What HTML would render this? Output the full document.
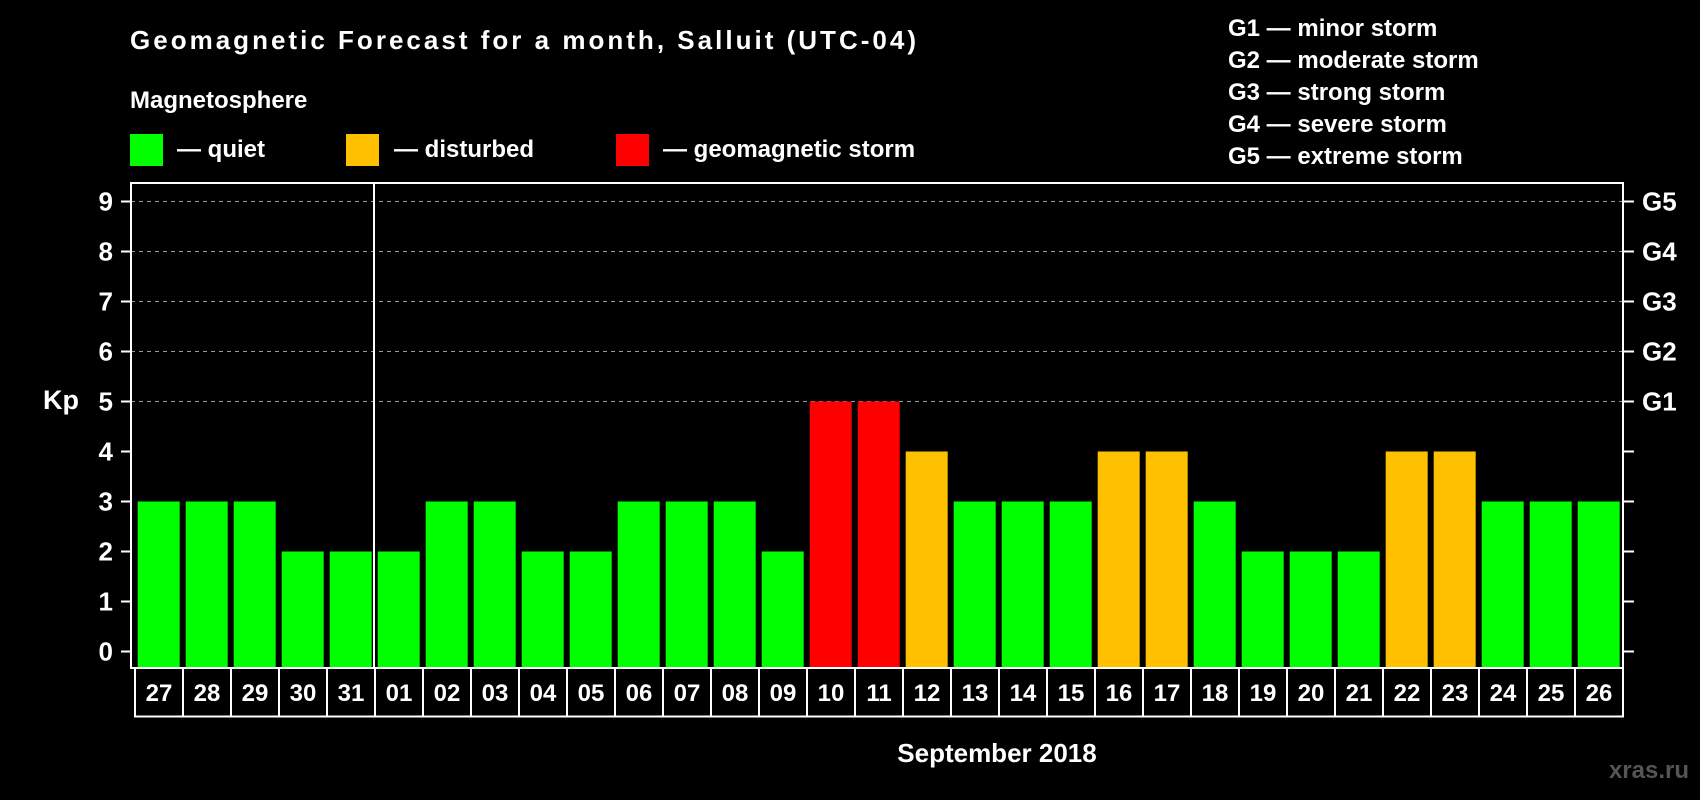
<!DOCTYPE html>
<html><head><meta charset="utf-8"><style>
html,body{margin:0;padding:0;background:#000;}
svg{display:block;font-family:"Liberation Sans",Arial,sans-serif;font-weight:bold;}
</style></head><body>
<svg id="chart" width="1700" height="800" viewBox="0 0 1700 800">
<rect width="1700" height="800" fill="#000"/>
<text x="130" y="49" font-size="26" fill="#fff" textLength="786">Geomagnetic Forecast for a month, Salluit (UTC-04)</text>
<text x="130" y="108" font-size="24" fill="#fff">Magnetosphere</text>
<g><rect x="130" y="134" width="33" height="32" fill="#00ff00"/><text x="177" y="157" font-size="24" fill="#fff">— quiet</text></g>
<g><rect x="346" y="134" width="33" height="32" fill="#ffc000"/><text x="394" y="157" font-size="24" fill="#fff">— disturbed</text></g>
<g><rect x="616" y="134" width="33" height="32" fill="#ff0000"/><text x="663" y="157" font-size="24" fill="#fff">— geomagnetic storm</text></g>
<g font-size="24" fill="#fff">
<text x="1228" y="36">G1 — minor storm</text>
<text x="1228" y="68">G2 — moderate storm</text>
<text x="1228" y="100">G3 — strong storm</text>
<text x="1228" y="132">G4 — severe storm</text>
<text x="1228" y="164">G5 — extreme storm</text>
</g>
<text x="43" y="409" font-size="27" fill="#fff">Kp</text>
<g id="grid"></g>
<g id="bars"></g>
<g id="axes"></g>
<text x="997" y="762" font-size="26" fill="#fff" text-anchor="middle">September 2018</text>
<text x="1689" y="778" font-size="24" fill="#555" text-anchor="end">xras.ru</text>
</svg>
<script>
const days = ["27","28","29","30","31","01","02","03","04","05","06","07","08","09","10","11","12","13","14","15","16","17","18","19","20","21","22","23","24","25","26"];
const kpValues = [3,3,3,2,2,2,3,3,2,2,3,3,3,2,5,5,4,3,3,3,4,4,3,2,2,2,4,4,3,3,3];
const yTicks = [0,1,2,3,4,5,6,7,8,9];
const gLabels = ["","","","","","G1","G2","G3","G4","G5"];
const monthBreakIndex = 5;

const NS="http://www.w3.org/2000/svg";
const L=131,R=1623,T=183,B=668,boxL=135,pitch=48,barW=42,barOff=2.7;
function yS(v){return 651.5-v*50;}
function xS(i){return boxL+i*pitch;}
function mk(tag,attrs,parent){const e=document.createElementNS(NS,tag);for(const k in attrs)e.setAttribute(k,attrs[k]);parent.appendChild(e);return e;}
const grid=document.getElementById('grid'),bars=document.getElementById('bars'),axes=document.getElementById('axes');
yTicks.forEach((v,i)=>{
  if(v>=5){const g=mk('line',{x1:L,x2:R,y1:yS(v),y2:yS(v),stroke:'#999','stroke-width':1,'stroke-dasharray':'4,4'},grid);
  
  }
  mk('line',{x1:L-10,x2:L,y1:yS(v),y2:yS(v),stroke:'#fff','stroke-width':2},axes);
  mk('line',{x1:R,x2:R+11,y1:yS(v),y2:yS(v),stroke:'#fff','stroke-width':2},axes);
  const t=mk('text',{x:113,y:yS(v)+9,'font-size':26,fill:'#fff','text-anchor':'end'},axes);t.textContent=v;
  
  
  if(gLabels[i]){const g2=mk('text',{x:1642,y:yS(v)+9,'font-size':26,fill:'#fff'},axes);g2.textContent=gLabels[i];
  
  }
});
kpValues.forEach((v,i)=>{
  const c=v>=5?'#ff0000':(v>=4?'#ffc000':'#00ff00');
  const r=mk('rect',{x:xS(i)+barOff,y:yS(v),width:barW,height:B-yS(v),fill:c},bars);
  
  
  const bx=mk('rect',{x:xS(i),y:B,width:pitch,height:48.5,fill:'none',stroke:'#fff','stroke-width':2},axes);
  
  
  const t=mk('text',{x:xS(i)+pitch/2,y:B+33,'font-size':24,fill:'#fff','text-anchor':'middle'},axes);t.textContent=days[i];
  
  
});
const fr=mk('rect',{x:L,y:T,width:R-L,height:B-T,fill:'none',stroke:'#fff','stroke-width':2},axes);


const mb=xS(monthBreakIndex)-1;
const ml=mk('line',{x1:mb,x2:mb,y1:T,y2:B,stroke:'#fff','stroke-width':2},axes);


</script>
</body></html>
